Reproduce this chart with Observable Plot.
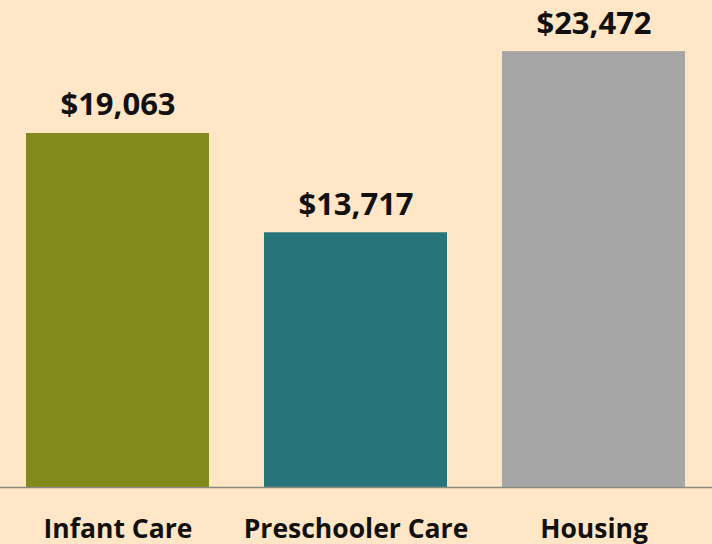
<!DOCTYPE html>
<html>
<head>
<meta charset="utf-8">
<script src="https://cdn.jsdelivr.net/npm/d3@7"></script>
<script src="https://cdn.jsdelivr.net/npm/@observablehq/plot@0.6"></script>
<style>
  html, body { margin: 0; padding: 0; background: #fee6c6; }
  #chart svg { display: block; }
</style>
</head>
<body>
<div id="chart"></div>
<script>
const categories = ["Infant Care", "Preschooler Care", "Housing"];
const values = [19063, 13717, 23472];
const colors = ["#838a1c", "#27747a", "#a6a6a6"];

const data = categories.map((c, i) => ({category: c, value: values[i], color: colors[i]}));
const fmt = d => "$" + d3.format(",")(d);

const chart = Plot.plot({
  width: 712,
  height: 544,
  marginLeft: 0,
  marginRight: 0,
  marginTop: 0,
  marginBottom: 57,
  style: {background: "#fee6c6", fontFamily: "'Open Sans', Lato, sans-serif"},
  x: {domain: categories, paddingInner: 0.231, paddingOuter: 0.111, axis: null},
  y: {domain: [0, 26225], axis: null},
  marks: [
    Plot.barY(data, {x: "category", y: "value", fill: "color"}),
    Plot.ruleY([0], {stroke: "#8a8a80", strokeWidth: 1.5}),
    Plot.text(data, {x: "category", y: "value", text: d => fmt(d.value), lineAnchor: "bottom", dy: -18, fontSize: 31, fontWeight: 700, fill: "#111"}),
    Plot.text(data, {x: "category", y: () => 0, text: "category", lineAnchor: "bottom", dy: 50, fontSize: 26.5, fontWeight: 700, fill: "#111"})
  ]
});
document.getElementById("chart").appendChild(chart);
</script>
</body>
</html>
